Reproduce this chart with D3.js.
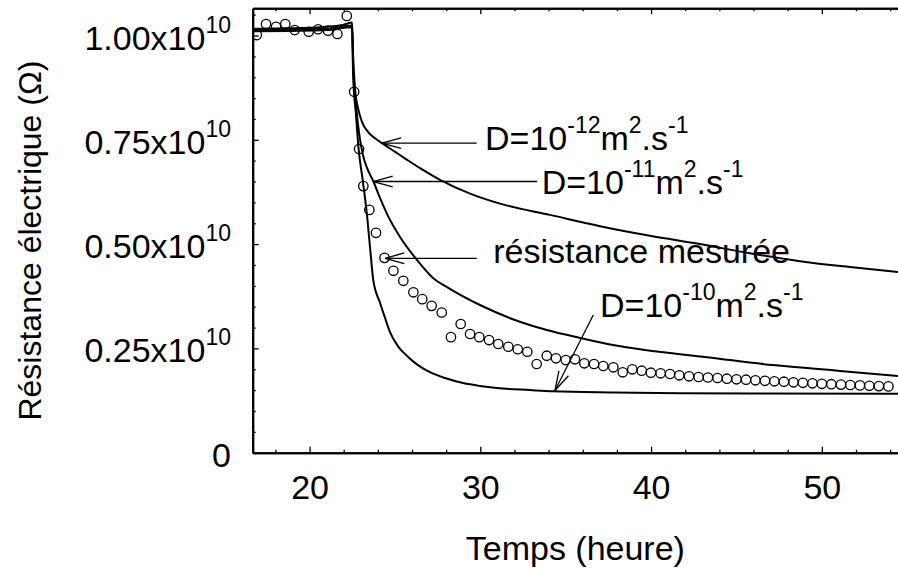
<!DOCTYPE html>
<html><head><meta charset="utf-8">
<script src="https://cdn.jsdelivr.net/npm/d3@7"></script>
<style>
body{margin:0;background:#fff;}
svg{display:block;}
text{font-family:"Liberation Sans", Arial, Helvetica, sans-serif;fill:#000;}
</style>
</head><body>
<svg id="chart" width="898" height="569"></svg>
<script>
// ---------- data (resistance in units of 1e10 ohm, time in hours) ----------
const xMajorTicks = [20, 30, 40, 50];
const xMinorTicks = [18, 22, 24, 26, 28, 32, 34, 36, 38, 42, 44, 46, 48, 52, 54];
const yMajorTicks = [0, 0.25, 0.5, 0.75, 1.0];
const yMinorTicks = [0.05,0.1,0.15,0.2,0.3,0.35,0.4,0.45,0.55,0.6,0.65,0.7,0.8,0.85,0.9,0.95,1.05];
const yTickMantissa = ["0", "0.25x10", "0.50x10", "0.75x10", "1.00x10"];
const yTickExponent = ["", "10", "10", "10", "10"];

const measuredTime = [16.91,17.45,18.04,18.58,19.13,19.95,20.50,21.08,21.63,22.18,
  22.61,22.90,23.15,23.50,23.89,24.39,24.91,25.49,26.08,26.60,
  27.15,27.74,28.28,28.85,29.40,29.94,30.51,31.05,31.64,32.19,
  32.75,33.30,33.89,34.43,35.00,35.54,36.09,36.66,37.20,37.79,
  38.34,38.90,39.45,39.99,40.56,41.11,41.65,
  42.22,42.78,43.33,43.89,44.44,45.00,45.56,46.11,46.67,47.22,
  47.78,48.34,48.89,49.45,50.00,50.56,51.12,51.67,52.23,52.78,53.34,53.90];
const measuredR = [1.001,1.0275,1.021,1.0275,1.013,1.009,1.015,1.0115,1.0036,1.047,
  0.865,0.728,0.639,0.582,0.527,0.467,0.436,0.412,0.3845,0.368,
  0.352,0.336,0.277,0.3085,0.2845,0.277,0.270,0.2605,0.254,0.248,
  0.242,0.2126,0.2325,0.2263,0.222,0.2239,0.2143,0.2126,0.2078,0.2047,
  0.1927,0.1999,0.1965,0.1918,0.1903,0.1886,0.1855,
  0.1831,0.1814,0.1802,0.179,0.1774,0.1759,0.175,0.1735,0.1723,0.1711,
  0.1702,0.1687,0.1675,0.1663,0.1651,0.1642,0.1632,0.1623,0.1613,0.1604,0.1596,0.1589];

const d12Time = [16.67,18.0,19.5,21.0,22.0,22.49,22.55,22.66,22.84,23.07,23.42,23.89,24.24,25.01,25.71,26.47,27.64,29.40,31.15,34.08,37.01,39.94,42.86,45.79,48.72,51.65,54.46];
const d12R    = [1.016,1.017,1.018,1.021,1.026,1.031,0.953,0.874,0.826,0.793,0.769,0.752,0.742,0.721,0.702,0.682,0.654,0.621,0.597,0.570,0.543,0.520,0.500,0.478,0.459,0.445,0.433];

const d11Time = [16.67,19.0,21.0,22.49,22.55,22.72,22.90,23.13,23.37,23.74,24.13,24.54,25.30,26.29,27.23,28.05,29.98,31.91,33.90,35.84,37.77,39.64,43.27,47.13,51.06,54.46];
const d11R    = [1.013,1.014,1.016,1.024,0.929,0.833,0.766,0.713,0.682,0.650,0.610,0.572,0.517,0.462,0.419,0.397,0.354,0.320,0.294,0.275,0.258,0.246,0.229,0.210,0.196,0.184];

const d10Time = [16.67,19.0,21.0,22.49,22.55,22.72,22.86,23.11,23.35,23.54,23.73,24.13,24.42,24.71,25.18,25.71,26.35,27.05,27.93,28.99,29.98,30.97,32.91,34.25,37.77,41.69,46.38,54.46];
const d10R    = [1.010,1.011,1.013,1.020,0.905,0.809,0.733,0.654,0.575,0.493,0.414,0.359,0.323,0.289,0.255,0.232,0.210,0.193,0.179,0.167,0.160,0.155,0.150,0.147,0.1443,0.1426,0.1419,0.1414];

// ---------- layout ----------
const svg = d3.select("#chart");
const pL = 252.7, pR = 898, pT = 8.3, pB = 452.7;
const x = d3.scaleLinear().domain([16.67, 54.46]).range([pL, pR]);
const y = d3.scaleLinear().domain([0, 1.0652]).range([pB, pT]);

svg.append("clipPath").attr("id","clip").append("rect")
  .attr("x", pL).attr("y", pT).attr("width", pR-pL).attr("height", pB-pT);

// ---------- axes ----------
function styleAxis(g){
  g.selectAll(".domain").attr("stroke","#000").attr("stroke-width",2);
  g.selectAll(".tick line").attr("stroke","#000").attr("stroke-width",1.3);
}
svg.append("g").attr("transform",`translate(0,${pB})`)
  .call(d3.axisBottom(x).tickValues(xMinorTicks).tickSize(-3).tickSizeOuter(0).tickFormat(""))
  .call(styleAxis);
const xAx = svg.append("g").attr("transform",`translate(0,${pB})`)
  .call(d3.axisBottom(x).tickValues(xMajorTicks).tickSize(-6).tickSizeOuter(0).tickPadding(22).tickFormat(d3.format("d")))
  .call(styleAxis);
xAx.selectAll("text").attr("font-size",34).attr("font-family",'"Liberation Sans", Arial, sans-serif').attr("fill","#000");

svg.append("g").attr("transform",`translate(0,${pT})`)
  .call(d3.axisTop(x).tickValues(xMinorTicks).tickSize(-3).tickSizeOuter(0).tickFormat(""))
  .call(styleAxis);
svg.append("g").attr("transform",`translate(0,${pT})`)
  .call(d3.axisTop(x).tickValues(xMajorTicks).tickSize(-6).tickSizeOuter(0).tickFormat(""))
  .call(styleAxis);

svg.append("g").attr("transform",`translate(${pL},0)`)
  .call(d3.axisLeft(y).tickValues(yMinorTicks).tickSize(-3).tickSizeOuter(0).tickFormat(""))
  .call(styleAxis);
svg.append("g").attr("transform",`translate(${pL},0)`)
  .call(d3.axisLeft(y).tickValues(yMajorTicks).tickSize(-6).tickSizeOuter(0).tickFormat(""))
  .call(styleAxis);

// y tick labels with superscripts
yMajorTicks.forEach((v,i)=>{
  const t = svg.append("text").attr("x", 231).attr("y", y(v)+14)
    .attr("text-anchor","end").attr("font-size",34);
  t.append("tspan").text(yTickMantissa[i]);
  if (yTickExponent[i]) t.append("tspan").attr("dy",-17).attr("font-size",23).text(yTickExponent[i]);
});

// axis titles
svg.append("text").attr("x",(pL+pR)/2).attr("y",560).attr("text-anchor","middle")
  .attr("font-size",34).text("Temps (heure)");
svg.append("text").attr("transform",`translate(41,${(pT+pB)/2+10}) rotate(-90)`)
  .attr("text-anchor","middle").attr("font-size",32).text("Résistance électrique (Ω)");

// ---------- curves ----------
const line = d3.line().x(d=>x(d[0])).y(d=>y(d[1])).curve(d3.curveMonotoneX);
const curves = [[d12Time,d12R],[d11Time,d11R],[d10Time,d10R]];
const cg = svg.append("g").attr("clip-path","url(#clip)");
curves.forEach(([ts,rs])=>{
  cg.append("path").datum(ts.map((t,i)=>[t,rs[i]]))
    .attr("d",line).attr("fill","none").attr("stroke","#000").attr("stroke-width",2);
});

// measured circles
cg.selectAll("circle.m").data(measuredTime.map((t,i)=>[t,measuredR[i]])).join("circle")
  .attr("class","m").attr("cx",d=>x(d[0])).attr("cy",d=>y(d[1])).attr("r",4.7)
  .attr("fill","none").attr("stroke","#000").attr("stroke-width",1.3);

// ---------- annotations ----------
function arrow(tipT, tipR, fromX, fromY){
  const tx = x(tipT), ty = y(tipR);
  svg.append("line").attr("x1",fromX).attr("y1",fromY).attr("x2",tx).attr("y2",ty)
    .attr("stroke","#000").attr("stroke-width",1.3);
  const ang = Math.atan2(fromY-ty, fromX-tx);
  const L = 20, spread = 0.27;
  [ang-spread, ang+spread].forEach(a=>{
    svg.append("line").attr("x1",tx).attr("y1",ty)
      .attr("x2",tx+L*Math.cos(a)).attr("y2",ty+L*Math.sin(a))
      .attr("stroke","#000").attr("stroke-width",1.3);
  });
}
function dLabel(px, py, expo){
  const t = svg.append("text").attr("x",px).attr("y",py).attr("font-size",34);
  t.append("tspan").text("D=10");
  t.append("tspan").attr("dy",-17).attr("font-size",23).text(expo);
  t.append("tspan").attr("dy",17).text("m");
  t.append("tspan").attr("dy",-17).attr("font-size",23).text("2");
  t.append("tspan").attr("dy",17).text(".s");
  t.append("tspan").attr("dy",-17).attr("font-size",23).text("-1");
}
arrow(24.23, 0.742, 476.7, y(0.742));
dLabel(485, 150, "-12");
arrow(23.74, 0.650, 537, y(0.650));
dLabel(541.7, 194, "-11");
arrow(24.42, 0.466, 476.7, y(0.466));
svg.append("text").attr("x",493.3).attr("y",263).attr("font-size",34).text("résistance mesurée");
arrow(34.37, 0.149, 593.3, 315);
dLabel(600, 317, "-10");
</script>
</body></html>
